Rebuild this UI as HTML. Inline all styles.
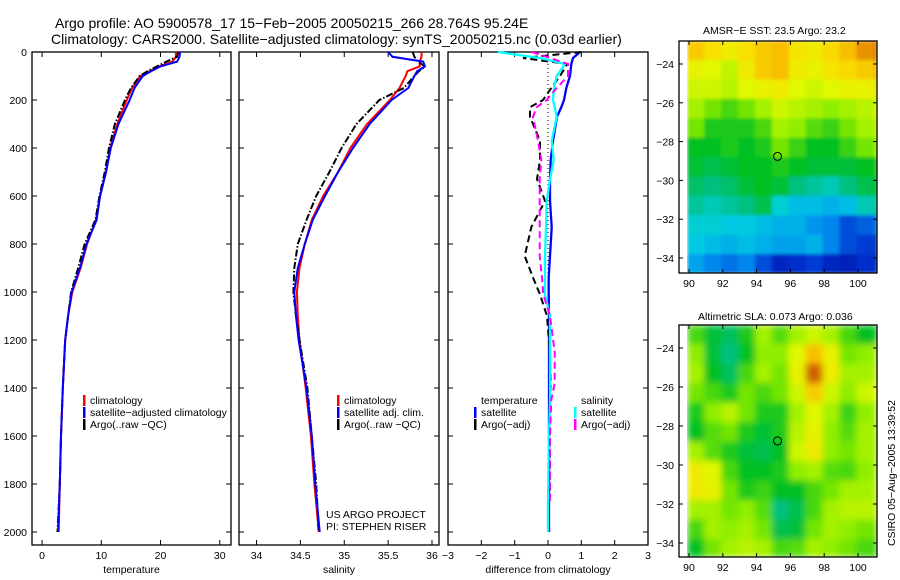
<!DOCTYPE html>
<html><head><meta charset="utf-8"><style>
body{margin:0;background:#fff;}
svg{display:block;font-family:"Liberation Sans",sans-serif;}
</style></head><body>
<svg id="s" width="900" height="580" viewBox="0 0 900 580">
<defs>
<filter id="blur" x="0" y="0" width="1" height="1"><feGaussianBlur stdDeviation="3.5" edgeMode="duplicate"/></filter>
<filter id="blur2" x="0" y="0" width="1" height="1"><feGaussianBlur stdDeviation="1.5" edgeMode="duplicate"/></filter>
</defs>
<text x="55" y="28" font-size="14">Argo profile: AO 5900578_17 15−Feb−2005 20050215_266 28.764S 95.24E</text>
<text x="51" y="44" font-size="14">Climatology: CARS2000. Satellite−adjusted climatology: synTS_20050215.nc (0.03d earlier)</text>
<text x="703" y="34" font-size="10.5">AMSR−E SST: 23.5 Argo: 23.2</text>
<text x="698" y="320" font-size="10.5">Altimetric SLA: 0.073 Argo: 0.036</text>
<text transform="translate(895,473) rotate(-90)" text-anchor="middle" font-size="10.5">CSIRO 05−Aug−2005 13:39:52</text>
<g id="g"></g>
</svg>
<script>
// ---------- data ----------
const depths = [0,20,40,60,80,100,150,200,300,400,500,600,700,800,900,1000,1100,1200,1400,1600,1800,2000];
const tempClim = [22.6,22.6,22.0,19.8,18.2,16.6,15.2,14.3,12.7,11.5,10.8,9.8,9.1,7.6,6.5,5.1,4.4,3.9,3.5,3.2,3.0,2.8];
const tempSat  = [23.3,23.2,22.8,20.0,18.4,17.0,15.6,14.8,12.9,11.6,10.8,9.8,9.2,7.5,6.4,5.0,4.4,3.9,3.5,3.2,3.0,2.7];
const tempArgo = [23.0,22.8,21.0,19.4,17.8,16.5,15.0,14.0,12.3,11.3,10.6,9.7,9.0,7.2,6.1,4.9,4.4,3.9,3.5,3.2,3.0,2.6];
const salClim = [35.88,35.88,35.86,35.86,35.72,35.70,35.63,35.52,35.26,35.07,34.93,34.76,34.63,34.55,34.49,34.46,34.47,34.49,34.56,34.62,34.66,34.71];
const salSat  = [35.50,35.55,35.90,35.92,35.83,35.80,35.73,35.54,35.29,35.10,34.93,34.78,34.64,34.55,34.47,34.43,34.45,34.48,34.57,34.63,34.67,34.72];
const salArgo = [35.78,35.80,35.84,35.92,35.85,35.80,35.68,35.40,35.14,34.97,34.83,34.68,34.57,34.47,34.43,34.42,34.45,34.49,34.58,34.63,34.68,34.71];
const diffDepths = [0,25,50,100,150,200,230,270,370,450,530,620,730,850,940,1010,1100,1250,1380,1450,1600,1870,2000];
const dTempSat  = [0.96,0.75,0.70,0.66,0.55,0.48,0.40,0.27,0.15,0.08,0.06,0.06,0.11,0.06,0.02,0.02,0.03,0.03,0.03,0.03,0.03,0.03,0.03];
const dTempArgo = [1.00,-0.75,0.58,0.36,0.10,-0.15,-0.54,-0.54,-0.24,-0.24,-0.33,-0.09,-0.50,-0.70,-0.45,-0.24,-0.03,0.05,0.08,0.05,0.05,0.05,null];
const dSalSat   = [-1.50,-0.24,0.51,0.26,0.18,0.15,0.20,0.26,0.11,0.17,0.06,-0.04,-0.06,-0.09,-0.09,-0.09,0.06,0.06,0.06,0.06,0.03,0.00,0.00];
const dSalArgo  = [-0.48,0.06,0.60,0.60,0.26,-0.04,-0.34,-0.45,-0.30,-0.20,-0.25,-0.25,-0.25,-0.25,-0.18,-0.14,0.06,0.20,0.20,0.10,0.06,0.06,null];
const depthTicks = [0,200,400,600,800,1000,1200,1400,1600,1800,2000];
const tempTicks = [0,10,20,30];
const salTicks = [34,34.5,35,35.5,36];
const diffTicks = [-3,-2,-1,0,1,2,3];
const lonTicks = [90,92,94,96,98,100];
const latTicks = [-24,-26,-28,-30,-32,-34];
const sstGrid = [
[.78,.75,.72,.75,.78,.80,.74,.72,.76,.80,.85,.86],
[.70,.68,.65,.72,.78,.80,.72,.70,.74,.76,.78,.80],
[.66,.66,.64,.68,.70,.72,.68,.66,.68,.70,.70,.72],
[.62,.58,.55,.58,.62,.66,.64,.62,.60,.62,.64,.66],
[.58,.52,.52,.52,.55,.62,.60,.56,.54,.58,.62,.64],
[.50,.50,.52,.50,.52,.58,.54,.50,.50,.54,.58,.60],
[.48,.46,.48,.50,.50,.52,.50,.48,.48,.48,.50,.52],
[.44,.42,.44,.48,.50,.48,.42,.40,.38,.42,.46,.48],
[.40,.38,.40,.42,.46,.36,.32,.32,.30,.32,.38,.40],
[.36,.36,.34,.34,.32,.30,.30,.26,.24,.18,.20,.22],
[.34,.32,.30,.32,.30,.28,.28,.30,.24,.18,.16,.16],
[.28,.24,.22,.24,.18,.12,.14,.16,.12,.10,.14,.14]];
const slaGrid = [
[.55,.48,.45,.52,.62,.56,.62,.66,.62,.55,.50,.50],
[.60,.48,.42,.50,.60,.60,.68,.80,.70,.58,.60,.62],
[.62,.50,.45,.55,.62,.58,.70,.90,.72,.62,.62,.64],
[.58,.55,.52,.58,.55,.58,.66,.78,.66,.60,.66,.68],
[.52,.60,.64,.58,.52,.52,.62,.68,.62,.54,.60,.62],
[.50,.56,.58,.52,.48,.52,.64,.70,.60,.56,.62,.62],
[.62,.56,.52,.48,.46,.50,.66,.72,.60,.58,.62,.62],
[.72,.68,.55,.50,.50,.52,.60,.62,.56,.55,.60,.62],
[.72,.70,.58,.52,.54,.50,.50,.55,.58,.62,.62,.64],
[.62,.62,.58,.60,.56,.42,.46,.55,.62,.64,.64,.64],
[.55,.62,.60,.62,.58,.46,.48,.58,.62,.60,.58,.58],
[.50,.58,.62,.64,.62,.55,.56,.62,.60,.58,.55,.55]];
const argoLon = 95.24, argoLat = -28.764;

// ---------- helpers ----------
const NS="http://www.w3.org/2000/svg", G=document.getElementById('g');
function mk(tag,at,parent){const e=document.createElementNS(NS,tag);for(const k in at)e.setAttribute(k,at[k]);(parent||G).appendChild(e);return e;}
const Y0=52, YS=0.24, TOP=52, BOT=545;
const yD=d=>Y0+YS*d;
const panels=[
 {x0:32,x1:231,v0:-1.7,v1:31.9,ticks:tempTicks,label:'temperature',name:'temperature-panel'},
 {x0:239,x1:439,v0:33.8,v1:36.08,ticks:salTicks,label:'salinity',name:'salinity-panel'},
 {x0:448,x1:648,v0:-3,v1:3,ticks:diffTicks,label:'difference from climatology',name:'difference-panel'}];
panels.forEach((p,i)=>{
 p.x=v=>p.x0+(v-p.v0)/(p.v1-p.v0)*(p.x1-p.x0);
 const r=mk('rect',{x:p.x0,y:TOP,width:p.x1-p.x0,height:BOT-TOP,fill:'none',stroke:'#000','stroke-width':1.3});
 
 
 p.ticks.forEach(t=>{
  const x=p.x(t);
  mk('line',{x1:x,x2:x,y1:BOT,y2:BOT-5,stroke:'#000'});
  mk('line',{x1:x,x2:x,y1:TOP,y2:TOP+5,stroke:'#000'});
  const tx=mk('text',{x:x,y:BOT+14,'font-size':10.5,'text-anchor':'middle'});
  tx.textContent=(t<0?'−'+(-t):String(t));
  
  
 });
 depthTicks.forEach(d=>{
  const y=yD(d);
  mk('line',{x1:p.x0,x2:p.x0+5,y1:y,y2:y,stroke:'#000'});
  mk('line',{x1:p.x1,x2:p.x1-5,y1:y,y2:y,stroke:'#000'});
  if(i===0){const tx=mk('text',{x:27,y:y+4,'font-size':10.5,'text-anchor':'end'});tx.textContent=d;
   
   }
 });
 const xl=mk('text',{x:(p.x0+p.x1)/2,y:573,'font-size':10.5,'text-anchor':'middle'});
 xl.textContent=p.label;
 
 
});
function line(p,ds,vals,color,dash,name,w){
 const pts=[];ds.forEach((d,k)=>{if(vals[k]!=null)pts.push(p.x(vals[k]).toFixed(1)+','+yD(d).toFixed(1));});
 const e=mk('polyline',{points:pts.join(' '),fill:'none',stroke:color,'stroke-width':w||2,'stroke-dasharray':dash||'none'});
 
 
}
const [P1,P2,P3]=panels;
line(P1,depths,tempClim,'#f00',null,'temp-climatology-line');
line(P1,depths,tempArgo,'#000','7,2,1.5,2','temp-argo-line');
line(P1,depths,tempSat,'#00f',null,'temp-satellite-line');
line(P2,depths,salClim,'#f00',null,'sal-climatology-line');
line(P2,depths,salArgo,'#000','7,2,1.5,2','sal-argo-line');
line(P2,depths,salSat,'#00f',null,'sal-satellite-line');
mk('line',{x1:P3.x(0),x2:P3.x(0),y1:TOP,y2:yD(1000),stroke:'#000','stroke-dasharray':'1,3'});
line(P3,diffDepths,dTempSat,'#00f',null,'dtemp-satellite-line',2.3);
line(P3,diffDepths,dTempArgo,'#000','7,4','dtemp-argo-line');
line(P3,diffDepths,dSalSat,'#0ff',null,'dsal-satellite-line',2.3);
line(P3,diffDepths,dSalArgo,'#f0f','7,4','dsal-argo-line');

function legend(x,y,items,name){
 items.forEach((it,k)=>{
  const yy=y+k*12;
  if(it[1])mk('rect',{x:x,y:yy-9,width:2.5,height:11,fill:it[1]});
  const t=mk('text',{x:x+7,y:yy,'font-size':10.5});t.textContent=it[0];
  
  
 });
}
legend(83,404,[['climatology','#f00'],['satellite−adjusted climatology','#00f'],['Argo(..raw −QC)','#000']],'temp-legend');
legend(337,404,[['climatology','#f00'],['satellite adj. clim.','#00f'],['Argo(..raw −QC)','#000']],'sal-legend');
legend(474,404,[['temperature',null],['satellite','#00f'],['Argo(−adj)','#000']],'dtemp-legend');
legend(574,404,[['salinity',null],['satellite','#0ff'],['Argo(−adj)','#f0f']],'dsal-legend');
let t=mk('text',{x:326,y:518,'font-size':10.5});t.textContent='US ARGO PROJECT';


t=mk('text',{x:326,y:530,'font-size':10.5});t.textContent='PI: STEPHEN RISER';



// ---------- maps ----------
const stops=[[0,[0,0,140]],[.15,[0,48,208]],[.25,[0,144,240]],[.35,[0,208,224]],[.42,[0,192,128]],[.5,[0,192,32]],[.6,[144,238,0]],[.68,[224,248,0]],[.75,[248,224,0]],[.82,[248,176,0]],[.9,[208,96,0]],[1,[160,32,0]]];
function cmap(v){for(let i=1;i<stops.length;i++){if(v<=stops[i][0]){const a=stops[i-1],b=stops[i],f=(v-a[0])/(b[0]-a[0]);return 'rgb('+a[1].map((c,j)=>Math.round(c+f*(b[1][j]-c))).join(',')+')';}}return 'rgb(160,32,0)';}
function map(grid,top,bot,lat24y,lat34y,name,filt){
 const fx0=679,fx1=877;
 const lx=lon=>689+(lon-90)*16.9;
 const ly=lat=>lat24y+(-24-lat)*(lat34y-lat24y)/10;
 const g=mk('g',{filter:'url(#'+filt+')'});
 
 
 grid.forEach((row,r)=>row.forEach((v,c)=>{
  const lat=-22.8-r, lon=89.9+c;
  const x=lx(lon), y=ly(lat);
  const w=Math.min(lx(lon+1),fx1)-x, h=Math.min(ly(lat-1),bot)-Math.max(y,top);
  if(w>0&&h>0){const e=mk('rect',{x:x.toFixed(1),y:Math.max(y,top).toFixed(1),width:(w+0.5).toFixed(1),height:(h+0.5).toFixed(1),fill:cmap(v)},g);
   
   }
 }));
 mk('rect',{x:fx0,y:top,width:fx1-fx0,height:bot-top,fill:'none',stroke:'#000','stroke-width':1.3});
 lonTicks.forEach(l=>{const x=lx(l);mk('line',{x1:x,x2:x,y1:bot,y2:bot-4,stroke:'#000'});mk('line',{x1:x,x2:x,y1:top,y2:top+4,stroke:'#000'});
  const tx=mk('text',{x:x,y:bot+14,'font-size':10.5,'text-anchor':'middle'});tx.textContent=l;
  
  });
 latTicks.forEach(l=>{const y=ly(l);mk('line',{x1:fx0,x2:fx0+4,y1:y,y2:y,stroke:'#000'});mk('line',{x1:fx1,x2:fx1-4,y1:y,y2:y,stroke:'#000'});
  const tx=mk('text',{x:674,y:y+4,'font-size':10.5,'text-anchor':'end'});tx.textContent='−'+(-l);
  
  });
 const c=mk('circle',{cx:lx(argoLon),cy:ly(argoLat),r:4,fill:'none',stroke:'#000','stroke-width':1});
 
 
}
map(sstGrid,41,273,64,258,'sst-map','blur2');
map(slaGrid,325,557,348,543,'sla-map','blur');
</script>
</body></html>
